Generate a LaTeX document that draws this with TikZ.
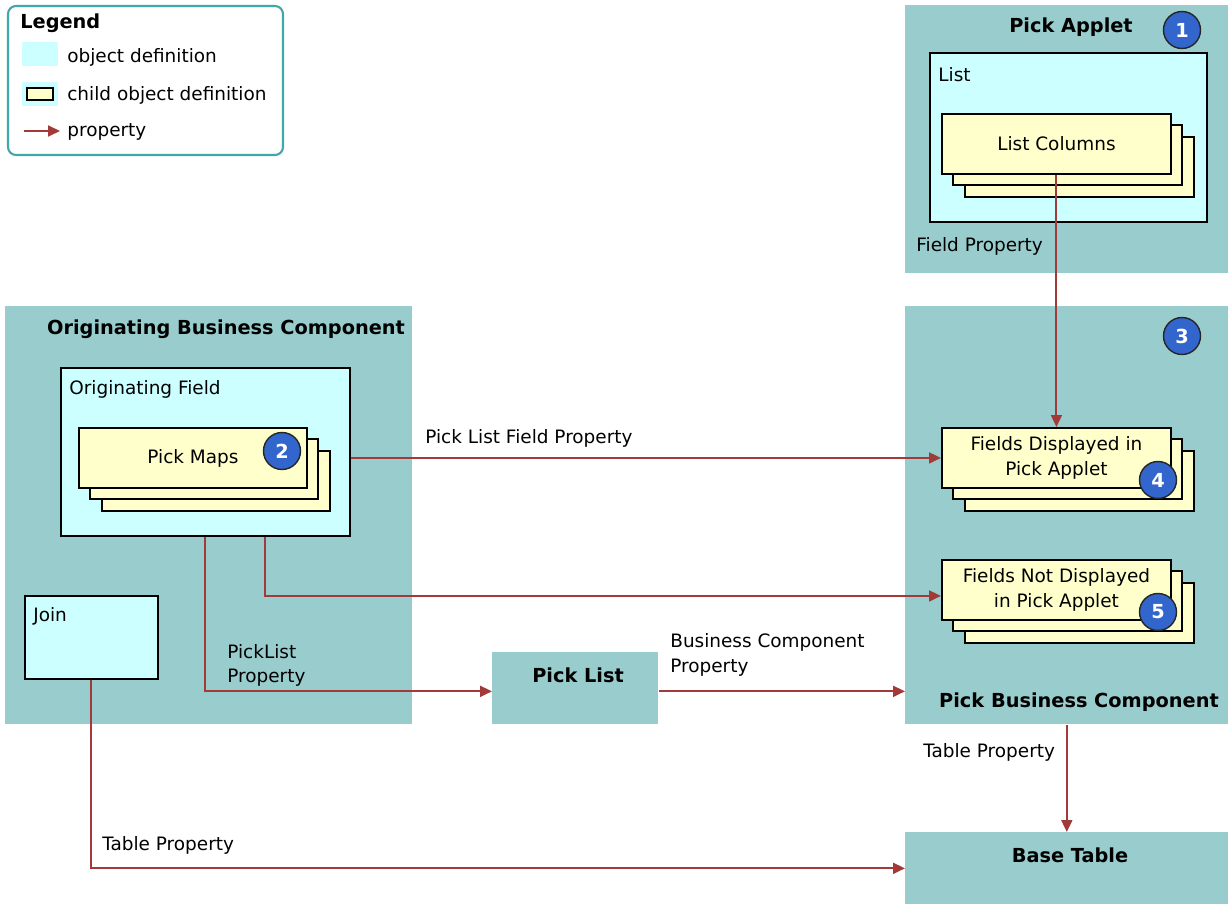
\documentclass[tikz,border=0pt]{standalone}
\usepackage{fontspec}
\setmainfont{DejaVu Sans}
\usetikzlibrary{arrows.meta}
\definecolor{bgteal}{HTML}{99CCCC}
\definecolor{objcyan}{HTML}{CCFFFF}
\definecolor{childyellow}{HTML}{FFFFCC}
\definecolor{propred}{HTML}{A33A3A}
\definecolor{numblue}{HTML}{3366CC}
\definecolor{legendline}{HTML}{40A8A8}
\tikzset{
	comp/.style={fill=bgteal, draw=none, anchor=north west, inner sep=0},
	obj/.style={fill=objcyan, draw=black, line width=1.1pt, anchor=north west, inner sep=0},
	child/.style={fill=childyellow, draw=black, line width=1.1pt, align=center, font=\fontsize{10.5}{14.2}\selectfont},
	title/.style={font=\fontsize{11}{14}\selectfont\bfseries, inner sep=0, anchor=base},
	txt/.style={font=\fontsize{10.5}{14.2}\selectfont, inner sep=0, anchor=base west},
	num/.style={circle, fill=numblue, draw=black!85, line width=0.8pt, minimum size=0.74cm, inner sep=0, text=white, font=\fontsize{11}{11}\selectfont\bfseries},
	prop/.style={draw=propred, line width=1.1pt, -{Triangle[length=0.24cm,width=0.22cm]}}
}
\begin{document}
\begin{tikzpicture}[x=0.02cm, y=-0.02cm]
	\useasboundingbox (0,0) rectangle (1228,905);
	% legend
	\draw [legendline, line width=1.2pt, rounded corners=0.16cm, fill=white] (8,6) rectangle (283,155);
	\node [title, anchor=base west] (leg) at (20,29) {Legend};
	\node [comp, fill=objcyan, minimum width=0.72cm, minimum height=0.48cm] (legobj) at (22,42) {};
	\node [comp, fill=objcyan, minimum width=0.72cm, minimum height=0.48cm] (legchild) at (22,82) {};
	\node [child, anchor=center, inner sep=0, minimum width=0.52cm, minimum height=0.24cm] (legcard) at (legchild) {};
	\coordinate (legfrom) at (24,131);
	\coordinate (legto) at (60,131);
	\draw [prop] (legfrom) -- (legto);
	\node [txt] (legobj-t) at (67,63) {object definition};
	\node [txt] (legchild-t) at (67,101) {child object definition};
	\node [txt] (legprop-t) at (67,137) {property};
	% pick applet
	\node [comp, minimum width=6.46cm, minimum height=5.36cm] (applet) at (905,5) {};
	\node [title] (applet-t) at (1071,33) {Pick Applet};
	\node [obj, minimum width=5.54cm, minimum height=3.38cm] (list) at (929,52) {};
	\node [txt] (list-t) at (938,82) {List};
	\foreach \o in {24,12} \draw [child] (941+\o,113+\o) rectangle +(229,60);
	\node [child, anchor=north west, minimum width=4.58cm, minimum height=1.2cm] (cols) at (941,113) {List Columns};
	\node [txt] (field-p) at (916,252) {Field Property};
	% originating business component
	\node [comp, minimum width=8.14cm, minimum height=8.36cm] (obc) at (5,306) {};
	\node [title] (obc-t) at (226,335) {Originating Business Component};
	\node [obj, minimum width=5.78cm, minimum height=3.36cm] (field) at (60,367) {};
	\node [txt] (field-t) at (69,395) {Originating Field};
	\foreach \o in {24,12} \draw [child] (78+\o,427+\o) rectangle +(228,60);
	\node [child, anchor=north west, minimum width=4.56cm, minimum height=1.2cm] (maps) at (78,427) {Pick Maps};
	\node [obj, minimum width=2.66cm, minimum height=1.66cm] (join) at (24,595) {};
	\node [txt] (join-t) at (33,622) {Join};
	% pick business component
	\node [comp, minimum width=6.46cm, minimum height=8.36cm] (pbc) at (905,306) {};
	\node [title] (pbc-t) at (1079,707) {Pick Business Component};
	\foreach \o in {24,12} \draw [child] (941+\o,427+\o) rectangle +(229,60);
	\node [child, anchor=north west, minimum width=4.58cm, minimum height=1.2cm] (disp) at (941,427) {Fields Displayed in\\Pick Applet};
	\foreach \o in {24,12} \draw [child] (941+\o,559+\o) rectangle +(229,60);
	\node [child, anchor=north west, minimum width=4.58cm, minimum height=1.2cm] (nodisp) at (941,559) {Fields Not Displayed\\in Pick Applet};
	% pick list, base table
	\node [comp, minimum width=3.32cm, minimum height=1.44cm] (picklist) at (492,652) {};
	\node [title] (picklist-t) at (578,682) {Pick List};
	\node [comp, minimum width=6.46cm, minimum height=1.44cm] (base) at (905,832) {};
	\node [title] (base-t) at (1070,862) {Base Table};
	% numbers
	\node [num] (n1) at (1182,30) {1};
	\node [num] (n2) at (282,451) {2};
	\node [num] (n3) at (1182,336) {3};
	\node [num] (n4) at (1158,480) {4};
	\node [num] (n5) at (1158,612) {5};
	% properties
	\draw [prop] (cols.south) -- (disp.north);
	\draw [prop] (maps.east -| field.east) -- (disp.west);
	\draw [prop] ([xshift=1.2cm]field.south) |- ([yshift=-0.12cm]nodisp.west);
	\draw [prop] (field.south) |- ([yshift=-0.06cm]picklist.west);
	\draw [prop] ([yshift=-0.06cm]picklist.east) -- ([yshift=-0.06cm]picklist.east -| pbc.west);
	\draw [prop] (pbc.south) -- (base.north);
	\draw [prop] (join.south) |- (base.west);
	\node [txt] (plf-p) at (425,444) {Pick List Field Property};
	\node [txt] (pl-p) at (227,658) {PickList};
	\node [txt] (pl-p2) at (227,683) {Property};
	\node [txt] (bc-p) at (670,647) {Business Component};
	\node [txt] (bc-p2) at (670,672) {Property};
	\node [txt] (tab-p) at (102,850) {Table Property};
	\node [txt] (tab-p2) at (923,757) {Table Property};
\end{tikzpicture}
\end{document}
